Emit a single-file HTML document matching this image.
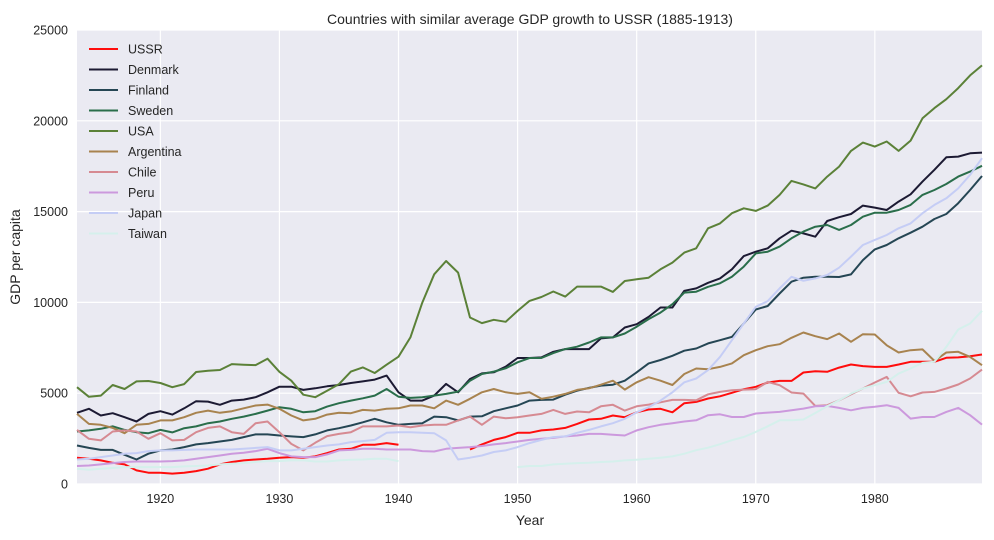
<!DOCTYPE html>
<html><head><meta charset="utf-8"><style>
body{margin:0;background:#fff;font-family:"Liberation Sans",sans-serif;}
svg text{font-family:"Liberation Sans",sans-serif;}
</style></head><body>
<svg id="chart" width="994" height="535" xmlns="http://www.w3.org/2000/svg">
<rect id="plotbg" x="77" y="30" width="905" height="454" fill="#eaeaf2"/>
<g id="grid"></g><g id="lines"></g><g id="legend"></g>
<text x="530" y="24" text-anchor="middle" font-size="14" fill="#262626">Countries with similar average GDP growth to USSR (1885-1913)</text>
<text x="530" y="525" text-anchor="middle" font-size="14" fill="#262626">Year</text>
<text x="20" y="257" text-anchor="middle" font-size="14" fill="#262626" transform="rotate(-90 20 257)">GDP per capita</text>
</svg>
<script>
const startYear = 1913;
const endYear = 1989;
const xTicks = [1920, 1930, 1940, 1950, 1960, 1970, 1980];
const yTicks = [0, 5000, 10000, 15000, 20000, 25000];
const names = ["USSR","Denmark","Finland","Sweden","USA","Argentina","Chile","Peru","Japan","Taiwan"];
const colors = ["#ff0d0d","#1c1a33","#254654","#2a6e4b","#5b8138","#a8834f","#d68a92","#cc99dd","#c5cdf5","#d5f0ec"];
const N = null;
const ussr = [1450,1390,1300,1170,1080,750,620,620,570,620,710,840,1080,1210,1300,1350,1390,1450,1480,1450,1520,1700,1900,1940,2160,2160,2250,2160,N,N,N,N,N,1900,2180,2430,2580,2820,2820,2950,3000,3090,3310,3550,3590,3770,3680,3950,4100,4140,3950,4450,4520,4710,4830,5020,5220,5350,5590,5680,5680,6140,6210,6180,6410,6580,6490,6450,6450,6580,6730,6730,6730,6950,6970,7040,7130];
const denmark = [3920,4140,3770,3900,3680,3440,3860,4010,3820,4170,4560,4540,4360,4590,4650,4780,5050,5360,5360,5180,5270,5380,5450,5560,5650,5750,5970,5050,4590,4590,4870,5510,5050,5780,6090,6150,6460,6940,6940,6970,7280,7430,7430,7430,8020,8070,8620,8800,9200,9720,9720,10640,10770,11080,11320,11820,12550,12790,12980,13530,13950,13800,13620,14480,14690,14870,15330,15220,15090,15550,15950,16650,17300,17990,18030,18210,18250];
const finland = [2120,1990,1880,1880,1610,1350,1670,1850,1900,2030,2180,2250,2340,2430,2580,2730,2730,2670,2620,2580,2730,2950,3070,3220,3400,3590,3400,3260,3310,3350,3710,3680,3500,3710,3730,4010,4170,4320,4590,4630,4650,4920,5140,5290,5420,5470,5690,6150,6640,6830,7060,7340,7460,7740,7920,8100,8840,9610,9800,10490,11140,11360,11410,11410,11400,11540,12330,12920,13160,13530,13840,14170,14590,14870,15460,16190,16960];
const sweden = [2890,2950,3040,3180,2980,2850,2800,2980,2840,3070,3170,3350,3440,3590,3710,3860,4040,4230,4140,3950,4010,4260,4450,4590,4720,4870,5230,4810,4740,4780,4870,4960,5090,5690,6060,6190,6370,6700,6940,6940,7210,7430,7560,7790,8070,8070,8290,8660,9080,9440,9900,10540,10590,10860,11050,11410,11970,12700,12790,13070,13530,13900,14170,14260,13990,14260,14720,14940,14940,15090,15370,15920,16190,16520,16930,17200,17520];
const usa = [5330,4800,4870,5450,5230,5650,5670,5560,5330,5500,6170,6240,6280,6600,6570,6550,6900,6180,5690,4920,4780,5140,5500,6190,6420,6110,6570,7010,8070,9990,11550,12280,11640,9170,8860,9040,8930,9530,10080,10300,10600,10320,10870,10870,10870,10580,11180,11270,11360,11820,12190,12740,12980,14080,14350,14910,15180,15040,15330,15920,16690,16500,16280,16930,17480,18340,18800,18580,18860,18340,18910,20140,20700,21190,21800,22500,23050];
const argentina = [3860,3310,3260,3090,2800,3260,3310,3500,3500,3680,3920,4040,3920,4010,4170,4320,4370,4140,3770,3500,3590,3820,3920,3900,4080,4040,4140,4170,4320,4320,4170,4590,4360,4690,5050,5230,5050,4960,5050,4690,4810,4960,5180,5270,5470,5690,5200,5600,5880,5690,5450,6060,6360,6320,6450,6640,7090,7370,7590,7700,8050,8340,8140,7980,8290,7830,8250,8230,7640,7240,7370,7410,6780,7240,7280,7000,6540];
const chile = [2980,2490,2400,2890,2950,2890,2490,2800,2400,2430,2850,3090,3170,2850,2760,3350,3440,2850,2210,1850,2270,2640,2760,2850,3170,3170,3170,3220,3130,3220,3260,3260,3500,3710,3260,3710,3620,3680,3770,3860,4080,3860,3990,3950,4280,4360,4040,4280,4370,4500,4630,4630,4610,4940,5070,5160,5200,5220,5620,5440,5040,4980,4300,4340,4610,4940,5260,5590,5900,5020,4830,5040,5070,5260,5480,5810,6300];
const peru = [990,1020,1080,1150,1210,1240,1240,1240,1260,1300,1390,1480,1570,1670,1720,1810,1940,1700,1520,1480,1480,1630,1850,1880,1940,1940,1900,1900,1900,1810,1790,1940,1990,2030,2090,2180,2250,2340,2430,2490,2540,2620,2670,2760,2760,2710,2670,2950,3130,3260,3350,3440,3510,3790,3840,3690,3690,3880,3930,3970,4060,4150,4280,4300,4190,4060,4190,4250,4340,4190,3600,3690,3690,3970,4190,3790,3270];
const japan = [1350,1390,1480,1570,1670,1700,1810,1850,1850,1880,1900,1900,1900,1900,1940,1990,2030,1850,1850,1940,2030,2120,2180,2310,2360,2430,2820,2850,2850,2820,2800,2400,1350,1450,1570,1760,1850,2030,2250,2430,2580,2620,2820,2980,3170,3350,3590,3950,4230,4590,5050,5600,5810,6270,7000,7920,8840,9760,10070,10770,11410,11190,11320,11510,11910,12520,13160,13440,13710,14080,14350,14910,15370,15730,16280,17020,17940];
const taiwan = [840,790,840,880,930,930,930,930,930,970,990,1020,1080,1120,1150,1210,1260,1260,1300,1300,1240,1240,1300,1340,1350,1390,1390,1260,N,N,N,N,N,N,N,N,N,930,990,990,1080,1120,1150,1170,1210,1240,1300,1340,1390,1450,1520,1670,1860,2000,2190,2410,2590,2870,3180,3510,3510,3550,3910,4280,4610,4980,5260,5440,5620,6080,6360,6670,6730,7550,8510,8840,9540];
const series = [ussr,denmark,finland,sweden,usa,argentina,chile,peru,japan,taiwan];

const L=77, R=982, T=30, B=484;
const ymax=25000;
function xScale(yr){return L+(yr-startYear)/(endYear-startYear)*(R-L);}
function yScale(v){return B-v/ymax*(B-T);}
const NS="http://www.w3.org/2000/svg";
const svg=document.getElementById('chart');
const grid=document.getElementById('grid');
xTicks.forEach(t=>{
  const x=xScale(t);
  const ln=document.createElementNS(NS,'line');
  ln.setAttribute('x1',x);ln.setAttribute('x2',x);ln.setAttribute('y1',T);ln.setAttribute('y2',B);
  ln.setAttribute('stroke','#fff');ln.setAttribute('stroke-width','1.2');
  
  
  grid.appendChild(ln);
  const tx=document.createElementNS(NS,'text');
  tx.setAttribute('x',x);tx.setAttribute('y',B+19);tx.setAttribute('text-anchor','middle');
  tx.setAttribute('font-size','12.5');tx.setAttribute('fill','#262626');
  tx.textContent=t;
  
  
  svg.appendChild(tx);
});
yTicks.forEach(t=>{
  const y=yScale(t);
  const ln=document.createElementNS(NS,'line');
  ln.setAttribute('x1',L);ln.setAttribute('x2',R);ln.setAttribute('y1',y);ln.setAttribute('y2',y);
  ln.setAttribute('stroke','#fff');ln.setAttribute('stroke-width','1.2');
  
  
  grid.appendChild(ln);
  const tx=document.createElementNS(NS,'text');
  tx.setAttribute('x',L-9);tx.setAttribute('y',y+4.5);tx.setAttribute('text-anchor','end');
  tx.setAttribute('font-size','12.5');tx.setAttribute('fill','#262626');
  tx.textContent=t;
  
  
  svg.appendChild(tx);
});
const lines=document.getElementById('lines');
series.forEach((s,i)=>{
  let d='';let pen=false;
  s.forEach((v,j)=>{
    if(v===null){pen=false;return;}
    d+=(pen?'L':'M')+xScale(startYear+j).toFixed(1)+','+yScale(v).toFixed(1);
    pen=true;
  });
  const p=document.createElementNS(NS,'path');
  p.setAttribute('d',d);p.setAttribute('fill','none');p.setAttribute('stroke',colors[i]);
  p.setAttribute('stroke-width','2');p.setAttribute('stroke-linejoin','round');
  
  
  lines.appendChild(p);
});
const leg=document.getElementById('legend');
names.forEach((n,i)=>{
  const y=49+i*20.5;
  const g=document.createElementNS(NS,'g');
  
  
  const ln=document.createElementNS(NS,'line');
  ln.setAttribute('x1',89);ln.setAttribute('x2',118);ln.setAttribute('y1',y);ln.setAttribute('y2',y);
  ln.setAttribute('stroke',colors[i]);ln.setAttribute('stroke-width','2');
  g.appendChild(ln);
  const tx=document.createElementNS(NS,'text');
  tx.setAttribute('x',128);tx.setAttribute('y',y+4.5);tx.setAttribute('font-size','12.5');tx.setAttribute('fill','#262626');
  tx.textContent=n;
  g.appendChild(tx);
  leg.appendChild(g);
});
</script>
</body></html>
